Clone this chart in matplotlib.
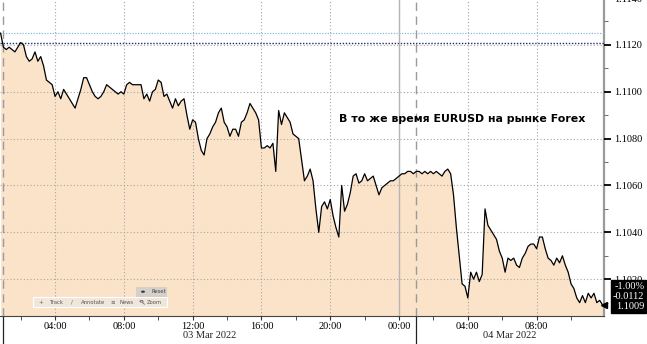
import numpy as np
import pandas as pd
import matplotlib
matplotlib.use("Agg")
import matplotlib.pyplot as plt
import matplotlib.dates as mdates
import matplotlib.transforms as mtransforms
from matplotlib.patches import Rectangle, Circle
from matplotlib.ticker import MultipleLocator, FormatStrFormatter

# EURUSD, 10-minute closes from 03 Mar 2022 00:50
prices = [
    1.1125, 1.1119, 1.1118, 1.1119, 1.1118, 1.1117, 1.1119, 1.1121, 1.1120, 1.1115,
    1.1113, 1.1114, 1.1117, 1.1113, 1.1115, 1.1111, 1.1105, 1.1104, 1.1103, 1.1098,
    1.1100, 1.1097, 1.1101, 1.1099, 1.1097, 1.1095, 1.1093, 1.1097, 1.1101, 1.1106,
    1.1106, 1.1103, 1.1100, 1.1098, 1.1097, 1.1098, 1.1100, 1.1103, 1.1102, 1.1101,
    1.1100, 1.1099, 1.1100, 1.1099, 1.1103, 1.1104, 1.1103, 1.1103, 1.1103, 1.1103,
    1.1097, 1.1099, 1.1096, 1.1100, 1.1101, 1.1105, 1.1104, 1.1098, 1.1099, 1.1096,
    1.1093, 1.1097, 1.1094, 1.1096, 1.1097, 1.1090, 1.1084, 1.1088, 1.1087, 1.1080,
    1.1075, 1.1073, 1.1080, 1.1082, 1.1085, 1.1087, 1.1091, 1.1093, 1.1087, 1.1085,
    1.1081, 1.1084, 1.1084, 1.1081, 1.1087, 1.1088, 1.1091, 1.1095, 1.1093, 1.1091,
    1.1088, 1.1076, 1.1076, 1.1077, 1.1076, 1.1078, 1.1066, 1.1092, 1.1086, 1.1091,
    1.1089, 1.1087, 1.1082, 1.1081, 1.1080, 1.1071, 1.1062, 1.1064, 1.1067, 1.1062,
    1.1050, 1.1040, 1.1051, 1.1053, 1.1050, 1.1054, 1.1047, 1.1042, 1.1038, 1.1060,
    1.1049, 1.1052, 1.1057, 1.1064, 1.1065, 1.1061, 1.1062, 1.1065, 1.1062, 1.1063,
    1.1064, 1.1060, 1.1056, 1.1059, 1.1060, 1.1061, 1.1062, 1.1062, 1.1063, 1.1064,
    1.1065, 1.1065, 1.1066, 1.1066, 1.1065, 1.1066, 1.1066, 1.1065, 1.1066, 1.1065,
    1.1066, 1.1065, 1.1066, 1.1065, 1.1064, 1.1066, 1.1067, 1.1065, 1.1056, 1.1042,
    1.1030, 1.1018, 1.1017, 1.1012, 1.1023, 1.1020, 1.1023, 1.1019, 1.1022, 1.1050,
    1.1043, 1.1041, 1.1039, 1.1037, 1.1032, 1.1029, 1.1023, 1.1029, 1.1028, 1.1029,
    1.1026, 1.1025, 1.1029, 1.1031, 1.1034, 1.1035, 1.1035, 1.1033, 1.1038, 1.1038,
    1.1033, 1.1029, 1.1028, 1.1026, 1.1029, 1.1027, 1.1030, 1.1026, 1.1023, 1.1018,
    1.1016, 1.1012, 1.1010, 1.1013, 1.1010, 1.1014, 1.1012, 1.1014, 1.1010, 1.1011,
    1.1009,
]
times = pd.date_range("2022-03-03 00:50", periods=len(prices), freq="10min")

prev_close = 1.1121
open_level = 1.1125
session_starts = [pd.Timestamp("2022-03-03 01:00"), pd.Timestamp("2022-03-04 01:00")]
midnight = pd.Timestamp("2022-03-04 00:00")
date_labels = ["03 Mar 2022", "04 Mar 2022"]
last_box = "-1.00%\n-0.0112\n1.1009"
note = "В то же время EURUSD на рынке Forex"

x_lo, x_hi = pd.Timestamp("2022-03-03 00:48"), pd.Timestamp("2022-03-04 11:55")
y_lo, y_hi = 1.10043, 1.1140

W, H = 647, 344
fig = plt.figure(figsize=(W / 100, H / 100), dpi=100)
ax = fig.add_axes([0, 28 / H, 604 / W, 318 / H])

fill = "#fbe3ca"
ax.fill_between(times, prices, y_lo, color=fill, lw=0, zorder=1)
ax.plot(times, prices, color="black", lw=0.9, zorder=5)

ax.axhline(open_level, color="#8fb6da", lw=0.9, ls=(0, (1, 1.2)), zorder=3)
ax.axhline(prev_close, color="#1c2c6c", lw=1.0, ls=(0, (1, 1.2)), zorder=3)
ax.axvline(midnight, color="#b5b5b5", lw=1.0, zorder=3)
for s in session_starts:
    ax.axvline(s, color="#9a9a9a", lw=1.0, ls=(0, (6, 4)), zorder=3)

ax.set_xlim(x_lo, x_hi)
ax.set_ylim(y_lo, y_hi)

ax.grid(True, which="major", color="#a5a5a5", lw=0.8, ls=(0, (1, 2)))
ax.set_axisbelow(False)

ax.xaxis.set_major_locator(mdates.HourLocator(byhour=[0, 4, 8, 12, 16, 20]))
ax.xaxis.set_minor_locator(mdates.HourLocator(byhour=range(0, 24, 2)))
ax.xaxis.set_major_formatter(mdates.DateFormatter("%H:%M"))

ax.yaxis.tick_right()
ax.yaxis.set_major_locator(MultipleLocator(0.002))
ax.yaxis.set_minor_locator(MultipleLocator(0.001))
ax.yaxis.set_major_formatter(FormatStrFormatter("%.4f"))

ax.tick_params(axis="x", which="both", direction="out", length=3, color="#333333",
               labelsize=7.5, pad=1.5)
ax.tick_params(axis="y", which="major", direction="out", length=5, width=1.3,
               color="black", labelsize=7.5, pad=2)
ax.tick_params(axis="y", which="minor", direction="out", length=3, color="#555555")
for lab in ax.get_xticklabels() + ax.get_yticklabels():
    lab.set_fontfamily("Liberation Serif")

for side in ["left", "top"]:
    ax.spines[side].set_visible(False)
ax.spines["right"].set_color("#9a9a9a")
ax.spines["right"].set_linewidth(1.6)
ax.spines["bottom"].set_color("#444444")
ax.spines["bottom"].set_linewidth(0.8)

# day separators below the axis and date labels
tr = mtransforms.blended_transform_factory(ax.transData, ax.transAxes)
for s in session_starts:
    ax.plot([s, s], [0, -28 / 318], transform=tr, color="#222222", lw=0.9, clip_on=False)
bounds = [session_starts[0], session_starts[1], x_hi]
for i, lab in enumerate(date_labels):
    mid = bounds[i] + (bounds[i + 1] - bounds[i]) / 2
    ax.text(mid, -20 / 318, lab, transform=tr, ha="center", va="center",
            fontsize=7.5, family="Liberation Serif", color="#222222")

# last value box
tr2 = mtransforms.blended_transform_factory(ax.transAxes, ax.transData)
ax.plot([1.0], [prices[-1]], marker="<", color="black", ms=5, transform=tr2, clip_on=False, zorder=6)
ax.annotate(last_box, xy=(1.0, prices[-1]), xycoords=tr2, xytext=(29, -4.5),
            textcoords="offset points", ha="right", va="bottom", multialignment="right",
            color="white", fontsize=7.5, family="Liberation Serif", linespacing=1.15,
            bbox=dict(boxstyle="square,pad=0.2", fc="black", ec="black"),
            annotation_clip=False, zorder=7)

ax.text(462 / 604, (316 - 119) / 318, note, transform=ax.transAxes, ha="center",
        va="center", fontsize=7.9, fontweight="bold", family="DejaVu Sans", color="black")

# chart toolbar overlay
def fx(px):
    return px / W

def fy(py):
    return 1 - py / H

fig.patches.append(Rectangle((fx(33), fy(307)), fx(134), 10 / H, transform=fig.transFigure,
                             fc="#f1e6da", ec="white", lw=0.8, zorder=10))
fig.patches.append(Rectangle((fx(136), fy(296.5)), fx(31), 9.5 / H, transform=fig.transFigure,
                             fc="#d6d0cb", ec="none", zorder=10))
fig.patches.append(Circle((fx(143), fy(291.7)), 2 / W, transform=fig.transFigure,
                          fc="#333333", ec="none", zorder=11))
# magnifier icon for Zoom
fig.patches.append(Circle((fx(141.5), fy(301.3)), 1.6 / W, transform=fig.transFigure,
                          fc="none", ec="#666666", lw=0.6, zorder=11))
fig.lines.append(plt.Line2D([fx(142.6), fx(144.3)], [fy(302.5), fy(304.2)],
                            transform=fig.transFigure, color="#666666", lw=0.6, zorder=11))
tool_items = [("+", 41, "Track", 50), ("/", 72, "Annotate", 81), ("≡", 113, "News", 120)]
for icon, ix, name, tx in tool_items:
    fig.text(fx(ix), fy(302), icon, fontsize=4, color="#666666", ha="center", va="center", zorder=12)
    fig.text(fx(tx), fy(302), name, fontsize=3.8, color="#555555", ha="left", va="center", zorder=12)
fig.text(fx(147), fy(302), "Zoom", fontsize=3.8, color="#555555", ha="left", va="center", zorder=12)
fig.text(fx(151), fy(291.7), "Reset", fontsize=3.8, color="#444444", ha="left", va="center", zorder=12)

fig.savefig("out.png", dpi=100)
